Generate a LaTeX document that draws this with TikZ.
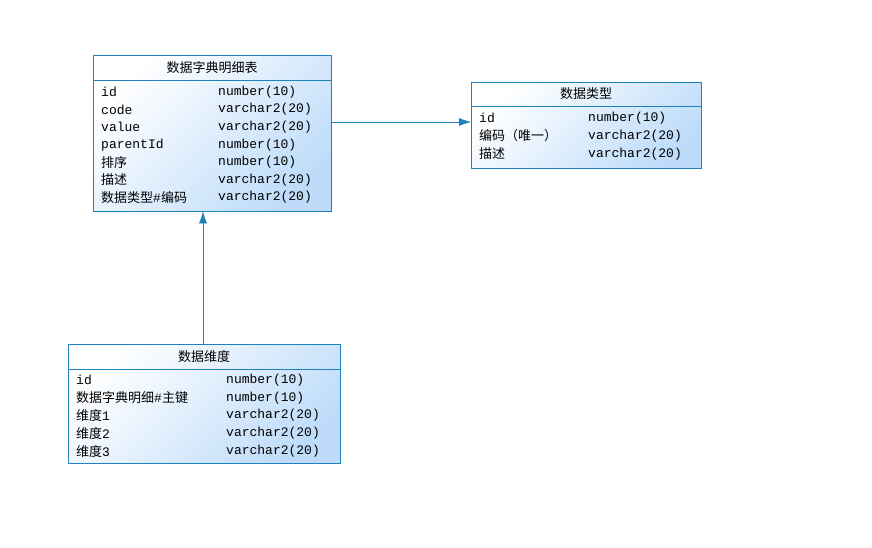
\documentclass[tikz,border=0pt]{standalone}
\usepackage{fontspec}
\setmainfont{Liberation Mono}
\newfontfamily\cjk{Noto Sans CJK SC}
\usetikzlibrary{positioning,arrows.meta}
\definecolor{edgeblue}{RGB}{30,130,190}
\definecolor{fillblue}{RGB}{190,220,250}
\tikzset{tbl/.style={draw=edgeblue,anchor=north west,inner sep=0pt,left color=white,right color=fillblue,shading angle=45},
  cell/.style={anchor=west,inner sep=0pt,font=\fontsize{13}{13}\selectfont},
  head/.style={anchor=center,inner sep=0pt,font=\cjk\fontsize{13}{13}\selectfont},
  link/.style={draw=edgeblue,-{Latex[length=12pt,width=8pt]}}}
\begin{document}
\begin{tikzpicture}[x=1pt,y=-1pt]
\useasboundingbox (0,0) rectangle (872,548);
% tables
\node[tbl,minimum width=238pt,minimum height=156pt] (dict) at (93,55) {};
\node[tbl,minimum width=230pt,minimum height=86pt] (type) at (471,82) {};
\node[tbl,minimum width=272pt,minimum height=119pt] (dim) at (68,344) {};
\draw[edgeblue] (93,80) -- (331,80);
\draw[edgeblue] (471,106) -- (701,106);
\draw[edgeblue] (68,369) -- (340,369);
\node[head] (dicth) at (212,67.5) {数据字典明细表};
\node[head] (typeh) at (586,94) {数据类型};
\node[head] (dimh) at (204,356.5) {数据维度};
% rows
\foreach \a/\b [count=\i from 0] in {id/number(10),code/varchar2(20),value/varchar2(20),parentId/number(10),{\cjk 排序}/number(10),{\cjk 描述}/varchar2(20),{\cjk 数据类型}\#{\cjk 编码}/varchar2(20)}{
  \node[cell] (dicta\i) at (101,92+17.6*\i) {\a};
  \node[cell] (dictb\i) at (218,92+17.6*\i) {\b};
}
\foreach \a/\b [count=\i from 0] in {id/number(10),{\cjk 编码（唯一）}/varchar2(20),{\cjk 描述}/varchar2(20)}{
  \node[cell] (typea\i) at (479,118+18*\i) {\a};
  \node[cell] (typeb\i) at (588,118+18*\i) {\b};
}
\foreach \a/\b [count=\i from 0] in {id/number(10),{\cjk 数据字典明细}\#{\cjk 主键}/number(10),{\cjk 维度}1/varchar2(20),{\cjk 维度}2/varchar2(20),{\cjk 维度}3/varchar2(20)}{
  \node[cell] (dima\i) at (76,380+17.8*\i) {\a};
  \node[cell] (dimb\i) at (226,380+17.8*\i) {\b};
}
% links
\draw[link] (dict.east |- 0,122) -- (type.west |- 0,122);
\draw[link] (dim.north -| 203,0) -- (dict.south -| 203,0);
\end{tikzpicture}
\end{document}
